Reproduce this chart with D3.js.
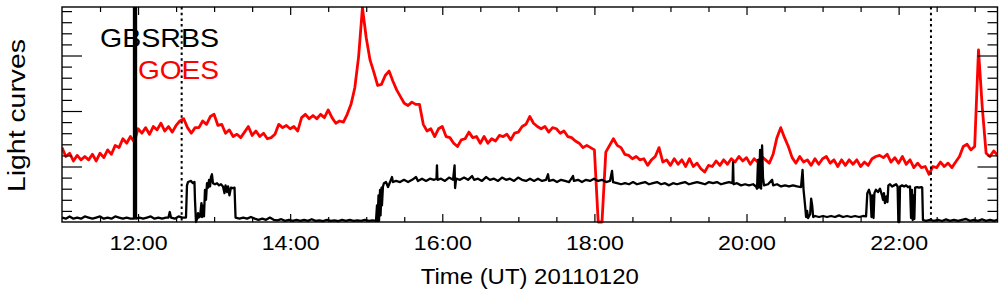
<!DOCTYPE html>
<html><head><meta charset="utf-8">
<script src="https://cdn.jsdelivr.net/npm/d3@7"></script>
<style>
body{margin:0;background:#fff}
svg{display:block}
text{font-family:"Liberation Sans",Arial,Helvetica,sans-serif}
</style>
</head><body>
<svg id="chart" width="1004" height="296"></svg>
<script>
// Time axis in minutes after 11:00 UT on 2011-01-20
const timeDomainMin = [0, 738];
const xMajorTicks = [60, 180, 300, 420, 540, 660];
const xTickLabels = ["12:00", "14:00", "16:00", "18:00", "20:00", "22:00"];
const xMinorTicks = [30, 90, 120, 150, 210, 240, 270, 330, 360, 390, 450, 480, 510, 570, 600, 630, 690, 720];
const yDomain = [0, 193.7];
const yMajorTicks = [50, 100, 150];
const yMinorTicks = [10, 20, 30, 40, 60, 70, 80, 90, 110, 120, 130, 140, 160, 170, 180, 190];
const markerTimesMin = [94.4, 685.5];
const seriesNames = ["GBSRBS", "GOES"];

// GOES light curve: sampled every 3 min starting 11:00
const goesStartMin = 0;
const goesStepMin = 3;
const goesFlux = [
 67,59,62,55,60,56,59,56,61,55,
 62,58,65,61,69,67,75,71,77,72,
 84,80,85,79,86,83,89,82,86,81,
 87,91,93,85,80,85,85,91,88,95,
 97,87,88,80,83,77,79,76,81,86,
 78,82,77,80,75,76,79,88,85,87,
 84,86,82,94,97,93,96,93,97,94,
 101,94,89,91,90,97,106,121,149,193,
 166,146,135,123,124,132,136,127,119,113,
 107,105,108,106,106,88,82,84,77,84,
 86,77,76,71,68,74,75,81,76,77,
 71,77,71,75,73,78,77,79,74,80,
 81,86,88,95,89,86,84,86,81,85,
 84,80,82,77,76,73,71,67,69,67,
 65,0,0,63,69,75,69,67,61,60,
 57,59,56,57,51,56,59,67,54,56,
 51,57,52,56,50,57,50,53,48,45,
 51,50,55,51,56,52,57,54,59,55,
 58,52,57,54,59,56,53,61,76,85,
 76,68,58,53,59,54,56,51,57,52,
 57,59,53,56,50,56,51,56,52,56,
 50,54,51,57,59,60,58,61,54,58,
 53,59,52,56,49,53,49,50,43,50,
 49,54,50,53,49,54,59,68,70,65,
 68,155,103,62,59,64,60
];

// GBSRBS light curve: [minutes after 11:00, value]
const gbsrbsSamples = [
 [0,4],[3,3],[6,5],[9,3],[12,4],[15,3],[18,5],[21,4],[24,3],[27,4],[30,5],[33,3],[36,4],[39,3],[42,5],[45,4],[48,3],[51,4],[54,3],
 [56.8,3],[56.8,200],[58.4,200],[58.4,3],
 [61,4],[64,3],[67,4],[70,5],[73,3],[76,4],[79,3],[82,4],[84,4],[85,9],[86,4],[89,3],[92,5],[95,4],[97.8,4],
 [98.6,33],[99.4,36],[101.8,37],[103.3,35],[104.5,36],[104.9,20],[105.7,0],[106.9,4],[107.3,8],[107.7,4],[108.9,5],[110.0,17],[110.4,4.5],[111.6,15],[112.0,5],[112.8,29],[113.6,20],[114.4,35],[115.2,31],[116.0,38],[116.8,32],[117.5,40.5],[118.3,43],[119.1,35],[120.7,34],[122.3,35],[123.9,33],[125.4,34],[127.0,32],[128.2,26],[129.0,33],[130.2,27],[131.0,32],[132.1,24],[133.3,31],[134.9,30.6],[136.1,31],[136.9,4],
 [140,3],[143,4],[146,3],[149,4.5],[152,3],[155,2],[158,3],[161,2],[164,4],[167,2],[170,1.5],[173,2.5],[176,1],[179,2],[182,1],[185,2],[188,1],[191,2],[194,1],[197,2.5],[200,1],[203,1.5],[206,0.8],[209,2],[212,1],[215,1.5],[218,0.8],[221,2],[224,1],[227,2],[230,1],[233,1.5],[236,1],[239,2],[242,1],[245,1.5],[247.7,1],
 [248.5,15],[248.9,1],[249.7,24],[250.1,1],[250.9,29],[251.3,6],[252.1,31],[252.4,15],[253.2,32],[254.0,35],[255.6,36],[257.2,31.5],[258.8,36],[260.3,40.5],[261.1,36],[263.5,37],[266.7,36],[269.8,38],[273.0,36],[276.2,38],[279.3,40.5],[280.8,37],[284.0,39],[287.2,37],[290.3,39],[293.5,38],[295.4,39],[295.8,51],[296.2,38],[299.0,39],[302.1,37],[305.3,40],[308.5,38],[309.7,51],[310.1,30.6],[310.9,39],[314.0,38],[317.2,40],[320.3,38],[323.5,41.4],[325.1,38],[328.2,39],[331.3,37],[334.5,40.5],[337.6,38],[340.8,39],[344.0,37],[347.1,40],[350.3,38],[353.4,39],[356.6,37],[359.8,40],[362.9,38],[366.1,37],[369.2,39],[372.4,37],[375.5,39],[378.7,37],[381.8,38],[383.4,43],[384.2,37],[387.4,38],[390.5,36],[393.7,38],[396.8,37],[400.0,36],[403.1,41.4],[403.9,37],[407.1,38],[410.2,36],[413.4,38],[416.5,37],[419.7,39],[422.9,37],[426.0,38],[429.2,36],[432.3,37],[433.9,46],[434.7,36],[437.9,35],[441.0,34],[444.2,35],[447.3,34],[450.5,36],[453.6,34],[456.8,35],[460.0,36],[463.1,34],[466.2,35],[469.4,36],[472.6,34],[475.7,35],[478.9,33],[482.0,35],[485.2,34],[488.3,35],[491.5,36],[494.6,34],[497.8,35],[501.0,36],[504.1,35],[507.3,34],[510.4,36],[513.6,35],[516.7,36],[519.9,34],[523.0,35],[526.2,36],[529.0,35],[529.4,54],[529.8,34],[532.5,35],[535.7,33],[538.9,34],[542.0,33],[545.2,34],[547.5,32],
 [548.3,30],[549.1,56],[549.9,31],[550.7,65],[551.5,30],[552.3,69],[553.0,40],[553.8,33],[557.0,34],[560.2,38],[561.0,33],[564.1,34],[567.3,32],[570.4,33],[573.5,32],[576.7,33],[579.9,32],[583.0,31.5],[584.2,47],[585.0,29],[586.2,15],[587.0,4.5],[587.8,10],[588.6,3.6],[590.2,7],[591.0,21],[591.8,15],[592.6,4.5],[594.1,5.4],[597.2,4.5],[600.4,5.4],[603.5,4.5],[606.7,5.4],[609.8,4.5],[613.0,6],[616.1,4.5],[619.3,5.4],[622.5,4.5],[625.6,5.4],[628.8,4.5],[631.9,5.4],[634.3,5],
 [635.3,26],[636.6,29],[637.8,24],[638.6,4.5],[639.4,24],[640.2,3.6],[640.9,26],[642.1,29],[643.7,27],[645.3,30],[646.9,24],[647.7,20],[648.4,26],[649.2,17],[650.4,23],[651.2,18],[651.9,33],[653.2,34],[654.8,32],[656.4,33],[658.0,34],[659.2,32],[659.8,0],[660.6,0],[661.1,32],[662.7,33],[664.3,32],[665.9,33],[667.4,31.5],[669.0,32],[669.8,3.6],[670.5,29],[671.1,1.8],[671.7,24],[672.4,2.7],[673.0,31],[674.6,31.5],[676.2,31],[677.8,31.5],[678.6,31],[679.2,1.8],
 [681.6,1],[684.8,2],[687.9,1],[691.1,2],[694.2,0.9],[697.4,2.3],[700.5,1],[703.7,2],[706.9,1],[710.0,2],[713.2,2.7],[716.3,1],[719.5,2],[722.6,1],[725.8,2.3],[729.0,1],[732.1,2],[735.3,1],[738,2]
];

const W = 1004, H = 296;
const plot = {left: 62, right: 997.5, top: 7, bottom: 222};
const svg = d3.select("#chart");

const x = d3.scaleLinear().domain(timeDomainMin).range([plot.left, plot.right]);
const y = d3.scaleLinear().domain(yDomain).range([plot.bottom, plot.top]);

svg.append("defs").append("clipPath").attr("id", "clip")
  .append("rect").attr("x", plot.left).attr("y", plot.top)
  .attr("width", plot.right - plot.left).attr("height", plot.bottom - plot.top + 3);

const goesData = goesFlux.map((v, i) => [goesStartMin + i * goesStepMin, v]);
const line = d3.line().x(d => x(d[0])).y(d => y(d[1]));

const g = svg.append("g").attr("clip-path", "url(#clip)");
g.append("path").datum(goesData).attr("d", line)
  .attr("fill", "none").attr("stroke", "#ff0000").attr("stroke-width", 2.8).attr("stroke-linejoin", "round");
g.append("path").datum(gbsrbsSamples).attr("d", line)
  .attr("fill", "none").attr("stroke", "#000").attr("stroke-width", 2.3).attr("stroke-linejoin", "round");

// event markers (dotted)
svg.append("g").selectAll("line").data(markerTimesMin).join("line")
  .attr("x1", d => x(d)).attr("x2", d => x(d))
  .attr("y1", plot.top).attr("y2", plot.bottom)
  .attr("stroke", "#000").attr("stroke-width", 2).attr("stroke-dasharray", "2.5,3.2");

// axes
const axisStyle = sel => { sel.select(".domain").remove(); sel.selectAll("line").attr("stroke", "#000").attr("stroke-width", 1.2); };

svg.append("g").attr("transform", `translate(0,${plot.bottom})`)
  .call(d3.axisBottom(x).tickValues(xMajorTicks).tickSize(-8).tickPadding(14)
    .tickFormat((d, i) => xTickLabels[i]))
  .call(axisStyle)
  .call(s => s.selectAll("text").attr("font-size", 20).attr("fill", "#000")
    .attr("font-family", '"Liberation Sans", Arial, sans-serif')
    .attr("textLength", 58).attr("lengthAdjust", "spacingAndGlyphs"));
svg.append("g").attr("transform", `translate(0,${plot.bottom})`)
  .call(d3.axisBottom(x).tickValues(xMinorTicks).tickSize(-5).tickFormat(""))
  .call(axisStyle);
svg.append("g").attr("transform", `translate(0,${plot.top})`)
  .call(d3.axisTop(x).tickValues(xMajorTicks).tickSize(-8).tickFormat(""))
  .call(axisStyle);
svg.append("g").attr("transform", `translate(0,${plot.top})`)
  .call(d3.axisTop(x).tickValues(xMinorTicks).tickSize(-5).tickFormat(""))
  .call(axisStyle);

svg.append("g").attr("transform", `translate(${plot.left},0)`)
  .call(d3.axisLeft(y).tickValues(yMajorTicks).tickSize(-20).tickFormat(""))
  .call(axisStyle);
svg.append("g").attr("transform", `translate(${plot.left},0)`)
  .call(d3.axisLeft(y).tickValues(yMinorTicks).tickSize(-10).tickFormat(""))
  .call(axisStyle);
svg.append("g").attr("transform", `translate(${plot.right},0)`)
  .call(d3.axisRight(y).tickValues(yMajorTicks).tickSize(-20).tickFormat(""))
  .call(axisStyle);
svg.append("g").attr("transform", `translate(${plot.right},0)`)
  .call(d3.axisRight(y).tickValues(yMinorTicks).tickSize(-10).tickFormat(""))
  .call(axisStyle);

// frame
svg.append("rect").attr("x", plot.left).attr("y", plot.top)
  .attr("width", plot.right - plot.left).attr("height", plot.bottom - plot.top)
  .attr("fill", "none").attr("stroke", "#000").attr("stroke-width", 1.4);

// titles
svg.append("text").attr("x", (plot.left + plot.right) / 2).attr("y", 284)
  .attr("text-anchor", "middle").attr("font-size", 21.5)
  .attr("textLength", 218).attr("lengthAdjust", "spacingAndGlyphs")
  .text("Time (UT) 20110120");
svg.append("text").attr("transform", `translate(25,${(plot.top + plot.bottom) / 2 + 1}) rotate(-90)`)
  .attr("text-anchor", "middle").attr("font-size", 23.5)
  .attr("textLength", 153).attr("lengthAdjust", "spacingAndGlyphs")
  .text("Light curves");

// legend labels
svg.append("text").attr("x", 219).attr("y", 47).attr("text-anchor", "end")
  .attr("font-size", 25.5).attr("fill", "#000")
  .attr("textLength", 119).attr("lengthAdjust", "spacingAndGlyphs")
  .text(seriesNames[0]);
svg.append("text").attr("x", 219).attr("y", 79).attr("text-anchor", "end")
  .attr("font-size", 25.5).attr("fill", "#ff0000")
  .attr("textLength", 81).attr("lengthAdjust", "spacingAndGlyphs")
  .text(seriesNames[1]);
</script>
</body></html>
